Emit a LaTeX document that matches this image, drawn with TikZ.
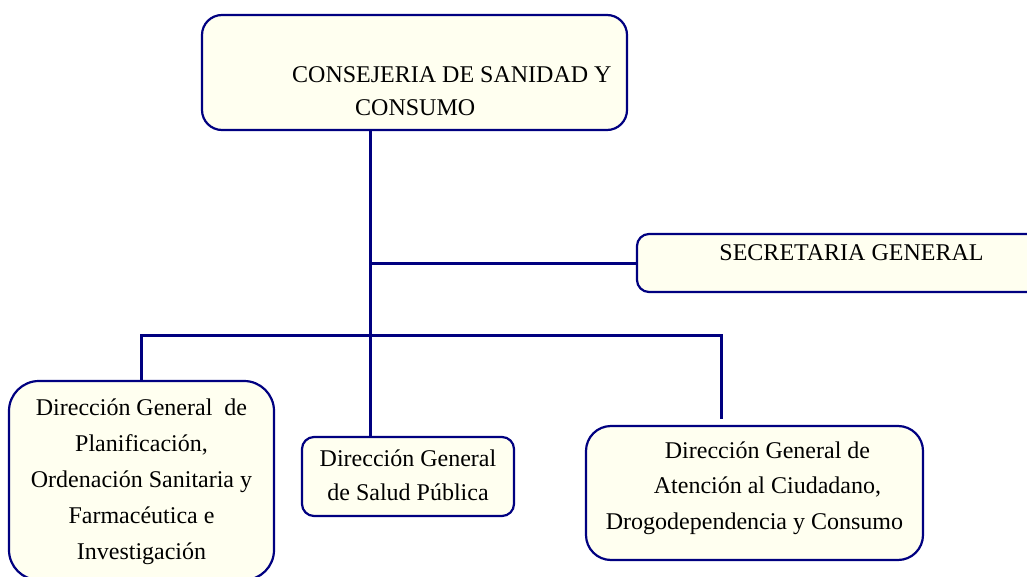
\documentclass[tikz,border=0pt]{standalone}
\usepackage{fontspec}
\setmainfont{Liberation Serif}
\definecolor{azul}{RGB}{0,0,128}
\definecolor{crema}{RGB}{255,255,240}

\begin{document}
\begin{tikzpicture}[x=1pt,y=-1pt,
		caja/.style={draw=azul, fill=crema, line width=2.2pt, inner sep=0pt},
		texto/.style={font=\fontsize{24}{36}\selectfont, inner sep=0pt, anchor=base},
		linea/.style={draw=azul, line width=3pt}]
			\clip (0,0) rectangle (1027,577);
			\draw (414.5,72.5) node [caja, rounded corners=20pt, minimum width=425pt, minimum height=115pt] (cons) {};
			\draw (838.5,263) node [caja, rounded corners=12pt, minimum width=403pt, minimum height=58pt] (secre) {};
			\draw (141.5,480.5) node [caja, rounded corners=30pt, minimum width=265pt, minimum height=199pt] (dgp) {};
			\draw (408,476.5) node [caja, rounded corners=12pt, minimum width=212pt, minimum height=79pt] (dgs) {};
			\draw (754.5,493) node [caja, rounded corners=25pt, minimum width=337pt, minimum height=134pt] (dga) {};
			% textos, anclados en la base de su ultima linea
			\draw (292,116) node [texto, anchor=base west, align=left, font=\fontsize{24}{33}\selectfont] (consT) {CONSEJERIA DE SANIDAD Y\\\hspace*{63pt}CONSUMO};
			\draw (851.5,260) node [texto] (secreT) {SECRETARIA GENERAL};
			\draw (141.5,559) node [texto, align=center] (dgpT) {Dirección General\ \ de\\Planificación,\\Ordenación Sanitaria y\\Farmacéutica e\\Investigación};
			\draw (408,500) node [texto, align=center, font=\fontsize{24}{34}\selectfont] (dgsT) {Dirección General\\de Salud Pública};
			\draw (754.5,529) node [texto, align=center, font=\fontsize{24}{35.5}\selectfont] (dgaT) {\hspace*{26pt}Dirección General de\\\hspace*{26pt}Atención al Ciudadano,\\Drogodependencia y Consumo};
			\coordinate (bus) at (370,335);
			\coordinate (codo) at (721,419);
			\draw [linea] (cons.south -| bus) -- (dgs.north -| bus);
			\draw [linea] (secre.west -| bus) -- (secre.west);
			\draw [linea] (dgp.north) |- (bus) -| (codo);
		\end{tikzpicture}
\end{document}
